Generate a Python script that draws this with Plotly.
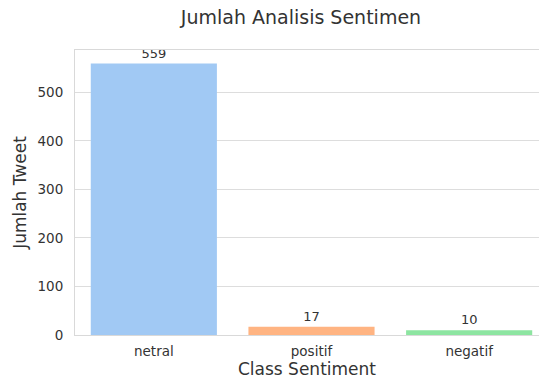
import plotly.graph_objects as go

categories = ["netral", "positif", "negatif"]
counts = [559, 17, 10]
colors = ["#a1c9f4", "#ffb482", "#8de5a1"]
yticks = [0, 100, 200, 300, 400, 500]

font = "DejaVu Sans"
fig = go.Figure()
fig.add_trace(go.Bar(
    x=list(range(len(categories))), y=counts,
    marker=dict(color=colors, line=dict(width=0)),
    width=0.8,
    text=[str(c) for c in counts], textposition="outside",
    textfont=dict(family=font, size=13, color="#333333"),
    cliponaxis=False,
))
fig.update_layout(
    width=539, height=380,
    margin=dict(l=75, r=0, t=50, b=45),
    plot_bgcolor="white", paper_bgcolor="white",
    showlegend=False,
    title=dict(text="Jumlah Analisis Sentimen", x=301/539, xanchor="center",
               y=1-17/380, yanchor="middle",
               font=dict(family=font, size=19, color="#333333")),
    font=dict(family=font, color="#333333"),
)
fig.update_xaxes(
    range=[-0.5, 2.443], tickvals=list(range(len(categories))), ticktext=categories,
    tickfont=dict(size=13.5, color="#333333"),
    showgrid=False, showline=True, linecolor="#d9d9d9", linewidth=1, mirror=True,
    ticks="", zeroline=False, ticklabelstandoff=4,
    title=dict(text="Class Sentiment", font=dict(size=17, color="#333333"), standoff=3),
)
fig.update_yaxes(
    range=[0, 587], tickvals=yticks,
    tickfont=dict(size=13.5, color="#333333"),
    showgrid=True, gridcolor="#dddddd", gridwidth=1,
    showline=True, linecolor="#d9d9d9", linewidth=1,
    ticks="", zeroline=False, ticklabelstandoff=8,
    title=dict(text="Jumlah Tweet", font=dict(size=17, color="#333333"), standoff=6),
)
fig.write_html("out.html")
